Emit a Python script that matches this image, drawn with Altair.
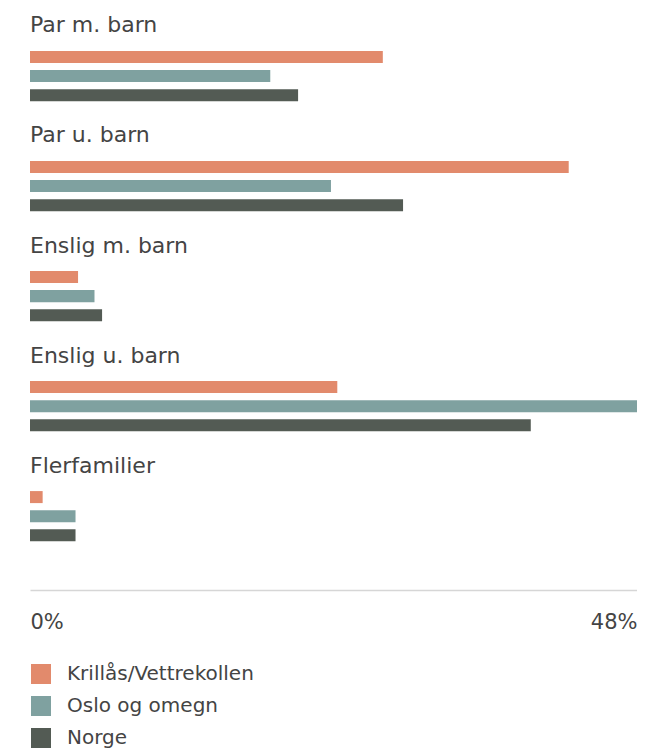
import altair as alt
import pandas as pd

categories = ["Par m. barn", "Par u. barn", "Enslig m. barn", "Enslig u. barn", "Flerfamilier"]
series = ["Krillås/Vettrekollen", "Oslo og omegn", "Norge"]
krillas = [27.9, 42.6, 3.8, 24.3, 1.0]
oslo = [19.0, 23.8, 5.1, 48.0, 3.6]
norge = [21.2, 29.5, 5.7, 39.6, 3.6]
colors = ["#E28A6C", "#7FA1A0", "#535B54"]
x_ticks = [0, 48]

rows = []
for s, vals in zip(series, [krillas, oslo, norge]):
    for c, v in zip(categories, vals):
        rows.append({"category": c, "series": s, "value": v})
df = pd.DataFrame(rows)
labels_df = pd.DataFrame({"category": categories})

FONT = "DejaVu Sans"
TXT = "#444444"

yscale = alt.Scale(domain=categories, paddingInner=0.48, paddingOuter=0.385, align=0.466)
xscale = alt.Scale(domain=[0, 48], nice=False, zero=True)

bars = alt.Chart(df).mark_bar().encode(
    x=alt.X("value:Q", scale=xscale,
            axis=alt.Axis(values=x_ticks, title=None, grid=False, ticks=False,
                          domainColor="#d6d6d6", domainWidth=1.5,
                          labelExpr="datum.value + '%'",
                          labelAlign={"condition": {"test": "datum.value == 0", "value": "left"}, "value": "right"},
                          labelFont=FONT, labelFontSize=21, labelColor=TXT, labelPadding=21)),
    y=alt.Y("category:N", scale=yscale, axis=None, sort=categories),
    yOffset=alt.YOffset("series:N", sort=series,
                        scale=alt.Scale(paddingInner=0.37, paddingOuter=0.185)),
    color=alt.Color("series:N", sort=series,
                    scale=alt.Scale(domain=series, range=colors),
                    legend=alt.Legend(title=None, orient="none", legendX=1, legendY=656,
                                      symbolType="square", symbolSize=400, symbolStrokeWidth=0,
                                      symbolOpacity=1, labelLimit=400,
                                      labelFont=FONT, labelFontSize=20, labelColor=TXT,
                                      labelOffset=16, rowPadding=12)),
)

texts = alt.Chart(labels_df).mark_text(
    align="left", baseline="alphabetic", dy=-15, font=FONT, fontSize=22, color=TXT
).encode(
    x=alt.datum(0, scale=xscale),
    y=alt.Y("category:N", scale=yscale, sort=categories, bandPosition=0),
    text="category:N",
)

chart = alt.layer(bars, texts).properties(
    width=607, height=582,
    padding={"left": 22, "top": 0, "right": 0, "bottom": 0},
).configure(background="white").configure_view(stroke=None)

chart.save("out.html", embed_options={"renderer": "svg", "actions": False})
